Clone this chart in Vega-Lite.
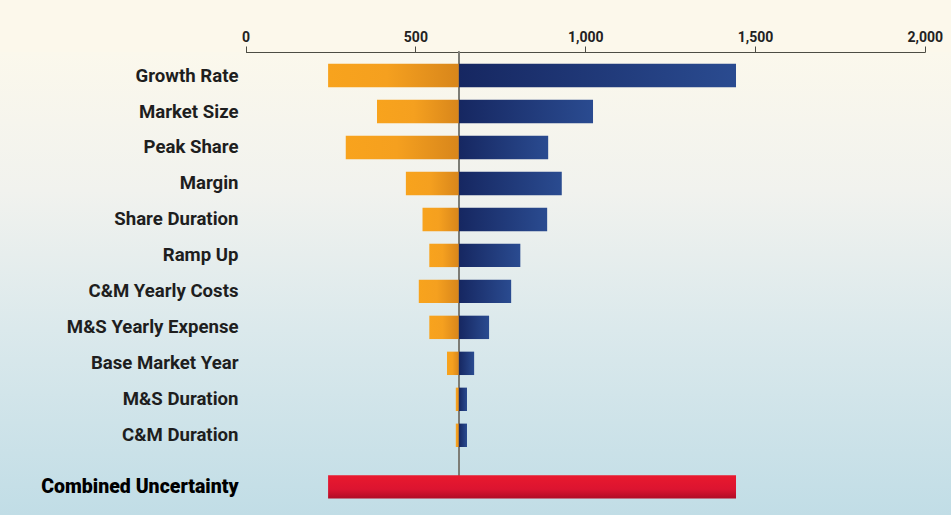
{
  "$schema": "https://vega.github.io/schema/vega-lite/v6.json",
  "width": 951,
  "height": 515,
  "autosize": {"type": "fit", "contains": "padding"},
  "padding": {"top": 30, "left": 0, "right": 0, "bottom": 0},
  "background": "#fcf8eb",
  "config": {
    "view": {
      "stroke": null,
      "fill": {
        "gradient": "linear",
        "x1": 0, "y1": 0, "x2": 0, "y2": 1,
        "stops": [
          {"offset": 0, "color": "#fbf8ec"},
          {"offset": 0.3, "color": "#f1f2ee"},
          {"offset": 0.6, "color": "#dbe9ec"},
          {"offset": 1, "color": "#c1dde6"}
        ]
      }
    }
  },
  "data": {
    "values": [
      {"label": "Growth Rate", "low": 243, "base": 628, "high": 1444},
      {"label": "Market Size", "low": 387, "base": 628, "high": 1023},
      {"label": "Peak Share", "low": 295, "base": 628, "high": 891},
      {"label": "Margin", "low": 472, "base": 628, "high": 931},
      {"label": "Share Duration", "low": 521, "base": 628, "high": 888},
      {"label": "Ramp Up", "low": 541, "base": 628, "high": 809},
      {"label": "C&M Yearly Costs", "low": 510, "base": 628, "high": 782},
      {"label": "M&S Yearly Expense", "low": 541, "base": 628, "high": 717},
      {"label": "Base Market Year", "low": 593, "base": 628, "high": 673},
      {"label": "M&S Duration", "low": 619, "base": 628, "high": 652},
      {"label": "C&M Duration", "low": 619, "base": 628, "high": 652},
      {"label": "Combined Uncertainty", "low": 243, "base": 628, "high": 1444}
    ]
  },
  "layer": [
    {
      "mark": {"type": "rule", "color": "#7d7d76", "strokeWidth": 1.2},
      "encoding": {
        "x": {"field": "base", "type": "quantitative", "title": null},
        "y": {"datum": "Growth Rate", "bandPosition": -0.52},
        "y2": {"datum": "Combined Uncertainty", "bandPosition": 0.9}
      }
    },
    {
      "transform": [{"filter": "datum.label !== 'Combined Uncertainty'"}],
      "mark": {
        "type": "bar",
        "color": {
          "gradient": "linear",
          "x1": 0, "y1": 0, "x2": 1, "y2": 0,
          "stops": [
            {"offset": 0, "color": "#f8a31d"},
            {"offset": 0.45, "color": "#f5a01f"},
            {"offset": 1, "color": "#d8861b"}
          ]
        }
      },
      "encoding": {
        "y": {
          "field": "label",
          "type": "nominal",
          "title": null,
          "scale": {
            "domain": ["Growth Rate", "Market Size", "Peak Share", "Margin", "Share Duration", "Ramp Up", "C&M Yearly Costs", "M&S Yearly Expense", "Base Market Year", "M&S Duration", "C&M Duration", "Combined Uncertainty"],
            "paddingInner": 0.35,
            "paddingOuter": 0.61,
            "align": 0.27
          },
          "axis": {
            "orient": "left",
            "offset": -238,
            "domain": false,
            "ticks": false,
            "tickSize": 0,
            "labelPadding": 0,
            "grid": false,
            "labelFont": "Roboto",
            "labelFontSize": {"expr": "datum.value === 'Combined Uncertainty' ? 19.5 : 18.6"},
            "labelFontWeight": {"expr": "datum.value === 'Combined Uncertainty' ? 900 : 'bold'"},
            "labelColor": {"expr": "datum.value === 'Combined Uncertainty' ? '#000000' : '#1e1e1e'"},
            "labelOffset": {"expr": "datum.value === 'Combined Uncertainty' ? 15.6 : 0"},
            "labelLimit": 400
          }
        },
        "x": {
          "field": "low",
          "type": "quantitative",
          "title": null,
          "scale": {"domain": [-723, 2077], "nice": false, "zero": false},
          "axis": {
            "orient": "top",
            "values": [0, 500, 1000, 1500, 2000],
            "format": ",d",
            "grid": false,
            "labelFont": "Roboto",
            "labelFontSize": 14,
            "labelFontWeight": "bold",
            "labelColor": "#222222",
            "labelPadding": 2,
            "tickSize": 6,
            "tickColor": "#4d4d44",
            "domainColor": "#4d4d44",
            "domainDash": [0, 245.6, 679.3, 80]
          }
        },
        "x2": {"field": "base"}
      }
    },
    {
      "transform": [{"filter": "datum.label !== 'Combined Uncertainty'"}],
      "mark": {
        "type": "bar",
        "color": {
          "gradient": "linear",
          "x1": 0, "y1": 0, "x2": 1, "y2": 0,
          "stops": [
            {"offset": 0, "color": "#162761"},
            {"offset": 1, "color": "#2a4b90"}
          ]
        }
      },
      "encoding": {
        "y": {"field": "label", "type": "nominal", "title": null},
        "x": {"field": "base", "type": "quantitative", "title": null},
        "x2": {"field": "high"}
      }
    },
    {
      "transform": [{"filter": "datum.label === 'Combined Uncertainty'"}],
      "mark": {
        "type": "bar",
        "yOffset": 15.6,
        "color": {
          "gradient": "linear",
          "x1": 0, "y1": 0, "x2": 0, "y2": 1,
          "stops": [
            {"offset": 0, "color": "#e9192e"},
            {"offset": 0.6, "color": "#dc1430"},
            {"offset": 1, "color": "#b00c26"}
          ]
        }
      },
      "encoding": {
        "y": {"field": "label", "type": "nominal", "title": null},
        "x": {"field": "low", "type": "quantitative", "title": null},
        "x2": {"field": "high"}
      }
    }
  ]
}
